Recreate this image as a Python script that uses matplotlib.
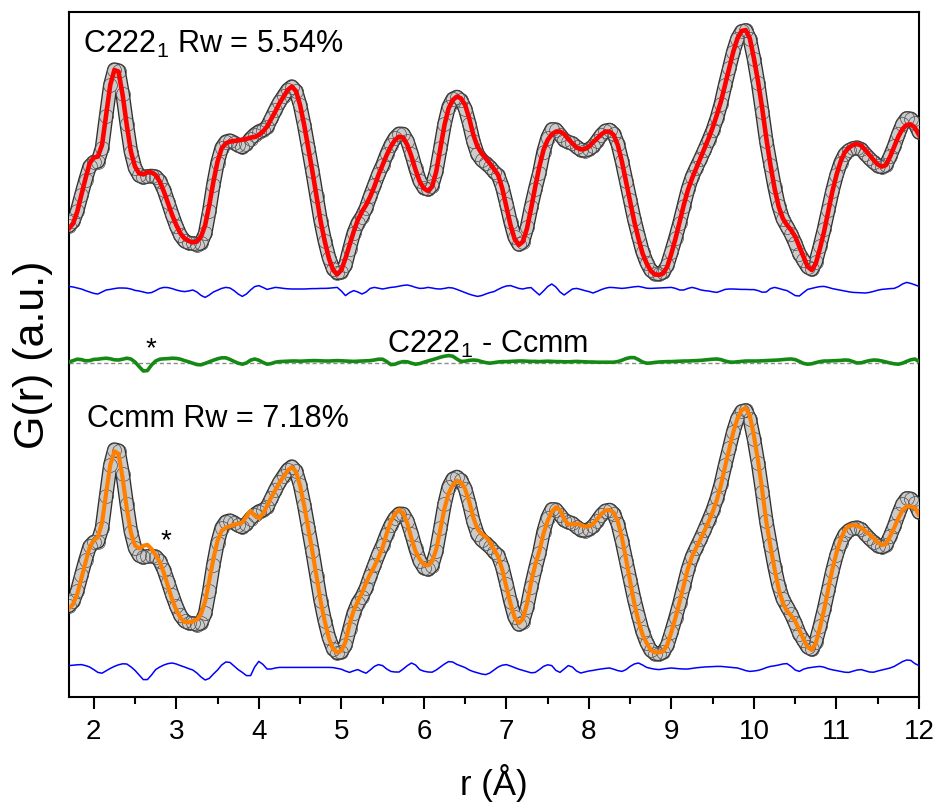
"""
PDF fit comparison: C222_1 vs Ccmm models against the same measured G(r).
Values read off the published figure on a 0.05 A grid (1.70 - 12.00 A).
"""

import matplotlib
matplotlib.use("Agg")
import matplotlib.pyplot as plt
import numpy as np
from matplotlib.ticker import MultipleLocator

plt.rcParams["font.family"] = ["Liberation Sans", "DejaVu Sans"]
plt.rcParams["mathtext.default"] = "regular"
NARROW = ["Liberation Sans Narrow", "Liberation Sans", "DejaVu Sans"]

# r grid of the measurement, 207 points from 1.70 to 12.00 A
R_MIN, R_MAX, N_PTS = 1.70, 12.00, 207

# calculated G(r) of the C222_1 model (a.u.)
G_CALC_C222 = [
    -3.67, -3.42, -2.83, -2.00, -1.17, -0.42, -0.13, -0.08, 0.50, 2.00,
    3.50, 4.25, 4.17, 3.00, 1.50, 0.17, -0.58, -0.92, -0.97, -0.87,
    -0.87, -1.00, -1.33, -1.83, -2.42, -3.00, -3.50, -3.92, -4.17, -4.30,
    -4.37, -4.33, -4.08, -3.50, -2.50, -1.33, -0.33, 0.33, 0.58, 0.67,
    0.70, 0.73, 0.77, 0.80, 0.87, 0.90, 1.00, 1.17, 1.42, 1.80,
    2.17, 2.58, 2.92, 3.25, 3.42, 3.20, 2.50, 1.50, 0.33, -0.83,
    -2.08, -3.33, -4.33, -5.17, -5.75, -5.97, -5.75, -5.17, -4.50, -3.83,
    -3.25, -2.83, -2.50, -2.08, -1.58, -1.00, -0.50, 0.00, 0.42, 0.75,
    0.92, 0.87, 0.50, -0.08, -0.75, -1.33, -1.67, -1.80, -1.58, -0.83,
    0.33, 1.50, 2.33, 2.75, 2.92, 2.83, 2.50, 1.83, 1.00, 0.42,
    0.08, -0.17, -0.42, -0.70, -1.00, -1.67, -2.58, -3.50, -4.20, -4.50,
    -4.33, -3.67, -2.67, -1.58, -0.58, 0.25, 0.75, 1.03, 1.17, 1.17,
    1.05, 0.80, 0.58, 0.38, 0.28, 0.30, 0.42, 0.63, 0.83, 1.03,
    1.17, 1.17, 1.00, 0.50, -0.33, -1.33, -2.33, -3.33, -4.17, -4.92,
    -5.42, -5.80, -5.97, -6.00, -5.92, -5.58, -4.92, -4.17, -3.33, -2.50,
    -1.75, -1.17, -0.67, -0.17, 0.33, 0.83, 1.37, 2.00, 2.67, 3.50,
    4.33, 5.17, 5.83, 6.20, 6.25, 5.83, 4.83, 3.67, 2.33, 0.83,
    -0.50, -1.67, -2.58, -3.17, -3.50, -3.75, -4.08, -4.58, -5.08, -5.58,
    -5.75, -5.42, -4.67, -3.83, -2.83, -1.83, -1.00, -0.33, 0.13, 0.37,
    0.50, 0.55, 0.47, 0.25, 0.00, -0.25, -0.47, -0.58, -0.50, -0.08,
    0.42, 0.92, 1.30, 1.50, 1.53, 1.37, 1.00,
]

# difference obs - calc, C222_1 model
DIFF_C222 = [
    0.13, 0.10, 0.05, 0.00, -0.08, -0.15, -0.22, -0.25, -0.15, -0.05,
    -0.02, 0.02, 0.05, 0.05, 0.04, 0.00, -0.07, -0.10, -0.15, -0.20,
    -0.18, -0.08, 0.03, 0.08, 0.07, 0.02, -0.05, -0.10, -0.13, -0.10,
    -0.05, -0.15, -0.32, -0.42, -0.30, -0.15, -0.06, 0.03, 0.08, 0.05,
    -0.08, -0.25, -0.37, -0.25, -0.05, 0.12, 0.17, 0.08, -0.02, 0.03,
    0.08, 0.06, 0.03, 0.01, 0.00, 0.00, 0.00, 0.00, 0.01, 0.02,
    0.02, 0.03, 0.03, 0.04, 0.06, 0.08, -0.10, -0.33, -0.18, -0.08,
    -0.15, -0.25, -0.15, 0.03, 0.08, 0.04, 0.00, 0.04, 0.08, 0.10,
    0.14, 0.18, 0.20, 0.15, 0.08, 0.03, 0.04, 0.08, 0.05, 0.01,
    0.00, 0.03, 0.07, 0.05, -0.02, -0.10, -0.18, -0.26, -0.32, -0.37,
    -0.33, -0.25, -0.18, -0.13, -0.02, 0.08, 0.15, 0.17, 0.10, 0.03,
    0.00, 0.05, 0.07, -0.12, -0.30, -0.10, 0.12, 0.25, 0.10, -0.15,
    -0.30, -0.15, 0.00, 0.03, -0.02, -0.08, -0.13, -0.20, -0.12, -0.03,
    0.04, 0.08, 0.07, 0.05, 0.03, 0.05, 0.08, 0.11, 0.13, 0.09,
    0.04, 0.03, 0.04, 0.05, 0.06, 0.07, 0.08, 0.03, -0.05, -0.05,
    0.03, 0.08, 0.03, -0.04, -0.08, -0.10, -0.14, -0.17, -0.10, -0.02,
    0.00, 0.00, -0.01, -0.02, -0.02, -0.03, -0.03, -0.08, -0.16, -0.15,
    0.02, 0.08, 0.03, -0.03, -0.08, -0.20, -0.33, -0.35, -0.18, -0.02,
    0.03, 0.08, 0.12, 0.13, 0.08, 0.02, -0.02, -0.06, -0.10, -0.14,
    -0.17, -0.18, -0.19, -0.20, -0.17, -0.12, -0.06, -0.02, 0.00, 0.02,
    0.03, 0.12, 0.25, 0.33, 0.28, 0.21, 0.13,
]

# calc(C222_1) - calc(Ccmm)
DIFF_MODELS = [
    0.03, 0.10, 0.17, 0.15, 0.09, 0.10, 0.16, 0.17, 0.20, 0.22,
    0.19, 0.14, 0.13, 0.17, 0.22, 0.18, 0.03, -0.20, -0.42, -0.40,
    -0.12, 0.08, 0.17, 0.19, 0.20, 0.22, 0.21, 0.17, 0.10, 0.04,
    -0.03, -0.10, -0.11, -0.04, 0.04, 0.12, 0.19, 0.24, 0.24, 0.16,
    0.06, -0.03, -0.08, -0.02, 0.12, 0.18, 0.12, 0.01, -0.08, -0.05,
    0.02, 0.05, 0.06, 0.07, 0.08, 0.08, 0.07, 0.08, 0.09, 0.10,
    0.10, 0.09, 0.08, 0.08, 0.09, 0.10, 0.09, 0.08, 0.07, 0.06,
    0.07, 0.08, 0.09, 0.10, 0.13, 0.17, 0.17, 0.05, -0.10, -0.08,
    0.00, 0.05, 0.04, -0.03, -0.08, -0.05, 0.02, 0.08, 0.14, 0.20,
    0.27, 0.32, 0.35, 0.32, 0.18, 0.06, 0.07, 0.11, 0.13, 0.11,
    0.05, 0.00, -0.03, 0.00, 0.03, 0.05, 0.05, 0.06, 0.07, 0.08,
    0.08, 0.07, 0.06, 0.06, 0.05, 0.06, 0.07, 0.06, 0.05, 0.05,
    0.04, 0.04, 0.05, 0.06, 0.05, 0.04, 0.03, 0.03, 0.02, 0.02,
    0.02, 0.02, 0.02, 0.05, 0.12, 0.20, 0.25, 0.25, 0.15, 0.03,
    -0.03, -0.02, 0.01, 0.03, 0.04, 0.05, 0.05, 0.06, 0.07, 0.08,
    0.08, 0.09, 0.10, 0.11, 0.13, 0.15, 0.17, 0.18, 0.15, 0.08,
    0.03, 0.02, 0.04, 0.06, 0.08, 0.08, 0.08, 0.08, 0.09, 0.10,
    0.11, 0.12, 0.13, 0.15, 0.17, 0.18, 0.15, 0.06, -0.04, -0.08,
    -0.06, 0.00, 0.05, 0.08, 0.08, 0.09, 0.10, 0.11, 0.13, 0.12,
    0.05, -0.02, -0.01, 0.05, 0.10, 0.13, 0.12, 0.08, 0.03, -0.02,
    -0.06, -0.08, -0.03, 0.06, 0.14, 0.18, 0.05,
]

# difference obs - calc, Ccmm model
DIFF_CCMM = [
    0.12, 0.14, 0.16, 0.17, 0.12, 0.05, -0.08, -0.22, -0.26, -0.14,
    -0.02, 0.08, 0.16, 0.21, 0.20, 0.06, -0.12, -0.35, -0.58, -0.58,
    -0.35, -0.08, 0.05, 0.15, 0.22, 0.25, 0.20, 0.12, 0.05, -0.03,
    -0.10, -0.25, -0.45, -0.60, -0.52, -0.30, -0.10, 0.15, 0.30, 0.28,
    0.10, -0.08, -0.22, -0.38, -0.38, 0.05, 0.33, 0.18, -0.05, -0.05,
    0.00, 0.03, 0.03, 0.03, 0.03, 0.03, 0.03, 0.03, 0.03, 0.03,
    0.03, 0.03, 0.03, 0.03, 0.02, -0.02, -0.06, -0.15, -0.22, -0.14,
    -0.08, -0.18, -0.26, -0.10, 0.08, 0.17, 0.12, -0.05, -0.17, -0.20,
    -0.20, -0.05, 0.12, 0.25, 0.15, -0.08, -0.16, -0.20, -0.21, -0.10,
    0.05, 0.20, 0.32, 0.30, 0.18, 0.10, 0.02, -0.10, -0.18, -0.24,
    -0.30, -0.33, -0.25, -0.10, 0.05, 0.14, 0.17, 0.10, 0.02, -0.06,
    -0.12, -0.18, -0.24, -0.22, -0.08, 0.08, 0.16, 0.12, -0.12, -0.22,
    -0.05, 0.12, 0.05, -0.15, -0.25, -0.20, -0.15, -0.12, -0.08, -0.05,
    -0.02, 0.00, -0.06, -0.13, -0.17, -0.08, 0.08, 0.20, 0.25, 0.15,
    0.03, -0.02, -0.06, -0.08, -0.05, -0.02, 0.00, -0.02, -0.04, -0.05,
    -0.05, -0.02, 0.01, 0.03, 0.05, 0.06, 0.07, 0.08, 0.08, 0.06,
    0.04, 0.02, 0.00, -0.06, -0.13, -0.17, -0.15, -0.12, -0.06, 0.02,
    0.08, 0.11, 0.15, 0.20, 0.22, 0.08, -0.10, -0.17, -0.06, 0.00,
    0.03, 0.06, 0.08, 0.04, -0.04, -0.09, -0.13, -0.17, -0.21, -0.22,
    -0.16, -0.10, -0.08, -0.14, -0.20, -0.21, -0.15, -0.10, -0.05, 0.00,
    0.08, 0.20, 0.32, 0.40, 0.38, 0.22, 0.12,
]

# vertical offsets of the stacked curves
OFF_C222 = 27.25
OFF_DIFF_C222 = 20.55
OFF_MODELS = 16.87
OFF_CCMM = 8.25
OFF_DIFF_CCMM = 1.60

XTICKS = [2, 3, 4, 5, 6, 7, 8, 9, 10, 11, 12]


def draw_obs(ax, r, g, offset):
    y = g + offset
    ax.plot(r, y, color="#2e2e2e", lw=10.5, solid_capstyle="round",
            solid_joinstyle="round", zorder=2)
    ax.plot(r, y, color="#cbcbcb", lw=8.6, solid_capstyle="round",
            solid_joinstyle="round", zorder=3)
    ax.plot(r, y, "o", ms=10, mfc="none", mec="#4c4c4c", mew=0.5, zorder=4)


def main():
    r = np.linspace(R_MIN, R_MAX, N_PTS)
    calc_c222 = np.array(G_CALC_C222)
    d_c222 = np.array(DIFF_C222)
    d_ccmm = np.array(DIFF_CCMM)
    d_models = np.array(DIFF_MODELS)
    assert len(calc_c222) == len(d_c222) == len(d_ccmm) == len(d_models) == N_PTS

    # measured curve is the same in both panels
    obs = calc_c222 + d_c222
    calc_ccmm = obs - d_ccmm

    fig = plt.figure(figsize=(9.39, 8.06), dpi=100)
    ax = fig.add_axes([69 / 939, 109 / 806, 850 / 939, 685 / 806])

    # C222_1 fit
    draw_obs(ax, r, obs, OFF_C222)
    ax.plot(r, calc_c222 + OFF_C222, color="#ff0000", lw=3.3, zorder=5)
    ax.plot(r, d_c222 + OFF_DIFF_C222, color="#0000ff", lw=1.1, zorder=5)

    # model difference
    ax.axhline(OFF_MODELS, color="#8c8c8c", lw=1.0, ls=(0, (3, 2)), zorder=1)
    ax.plot(r, d_models + OFF_MODELS, color="#148a14", lw=2.6, zorder=5)

    # Ccmm fit
    draw_obs(ax, r, obs, OFF_CCMM)
    ax.plot(r, calc_ccmm + OFF_CCMM, color="#ff8000", lw=3.0, zorder=5)
    ax.plot(r, d_ccmm + OFF_DIFF_CCMM, color="#0000ff", lw=1.1, zorder=5)

    ax.text(1.867, 32.35, r"C222$_{1}$ Rw = 5.54%", fontsize=22, va="baseline")
    ax.text(5.55, 17.35, r"C222$_{1}$ - Ccmm", fontsize=22, va="baseline")
    ax.text(1.915, 13.65, "Ccmm Rw = 7.18%", fontsize=22, va="baseline")
    ax.text(2.69, 17.2, "*", fontsize=20, ha="center", va="baseline")
    ax.text(2.873, 7.6, "*", fontsize=20, ha="center", va="baseline")

    ax.set_xlim(R_MIN, R_MAX)
    ax.set_ylim(0.15, 34.4)
    ax.set_yticks([])
    ax.set_xticks(XTICKS, [str(t) for t in XTICKS], fontsize=20, fontfamily=NARROW)
    ax.xaxis.set_minor_locator(MultipleLocator(0.5))
    ax.tick_params(axis="x", which="major", direction="out", length=8.5, width=1.5, pad=7.5)
    ax.tick_params(axis="x", which="minor", direction="out", length=5, width=1.5)
    for sp in ax.spines.values():
        sp.set_linewidth(1.5)

    ax.set_xlabel("r (Å)", fontsize=25, fontfamily=NARROW, va="center")
    ax.xaxis.set_label_coords(0.5, -0.125)
    ax.set_ylabel("G(r) (a.u.)", fontsize=31, va="center")
    ax.yaxis.set_label_coords(-0.0424, 0.5)

    fig.savefig("out.png", dpi=100)
    plt.close(fig)


if __name__ == "__main__":
    main()
